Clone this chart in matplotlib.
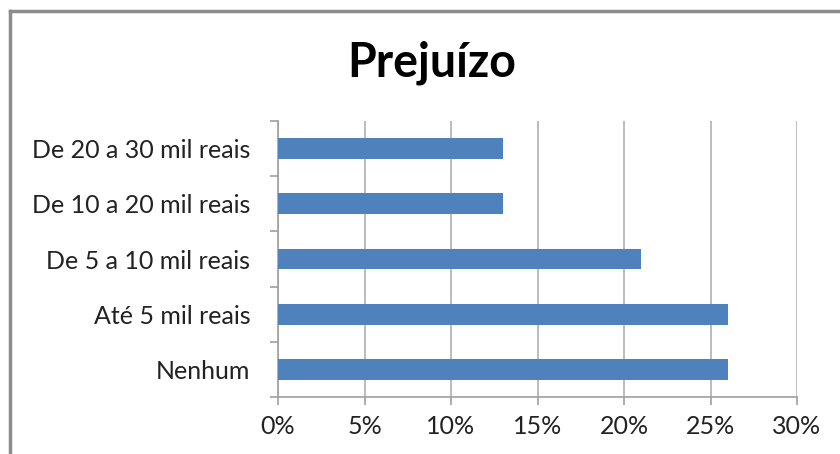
import matplotlib.pyplot as plt
import numpy as np
from matplotlib.lines import Line2D

# datos
categorias = ['Nenhum', 'Até 5 mil reais', 'De 5 a 10 mil reais', 'De 10 a 20 mil reais', 'De 20 a 30 mil reais']
valores = [26, 26, 21, 13, 13]
ticks_x = [0, 5, 10, 15, 20, 25, 30]
titulo = 'Prejuízo'

plt.rcParams['font.family'] = ['Lato', 'DejaVu Sans']

fig = plt.figure(figsize=(8.4, 4.54), dpi=100)
ax = fig.add_axes([278 / 840, 1 - 397 / 454, (797 - 278) / 840, (397 - 121) / 454])

pos = np.arange(len(categorias))
ax.barh(pos, valores, height=0.38, color='#4F81BD', zorder=3)

ax.set_xlim(0, 30)
ax.set_ylim(-0.5, len(categorias) - 0.5)
ax.set_xticks(ticks_x)
ax.set_xticklabels([f'{t}%' for t in ticks_x])
ax.grid(axis='x', color='#B0B0B0', linewidth=1.2, zorder=0)

# ticks en los limites de las categorias
ax.set_yticks(np.arange(-0.5, len(categorias), 1.0))
ax.set_yticklabels([])
ax.set_yticks(pos, minor=True)
ax.set_yticklabels(categorias, minor=True)
ax.tick_params(axis='y', which='minor', length=0, pad=20, labelsize=18, labelcolor='#222222')
ax.tick_params(axis='y', which='major', length=6, color='#A0A0A0', width=1.2)
ax.tick_params(axis='x', length=6, color='#A0A0A0', width=1.2, pad=7, labelsize=18, labelcolor='#222222')

for lado in ['top', 'right']:
    ax.spines[lado].set_visible(False)
for lado in ['left', 'bottom']:
    ax.spines[lado].set_color('#A0A0A0')
    ax.spines[lado].set_linewidth(1.2)

fig.text(432 / 840, 1 - 63 / 454, titulo, ha='center', va='center', fontsize=33.5, fontweight='bold')

# borde del grafico
fig.add_artist(Line2D([10 / 840, 10 / 840], [0, 1 - 11 / 454], transform=fig.transFigure, color='#8C8C8C', linewidth=2.5))
fig.add_artist(Line2D([10 / 840, 1], [1 - 11 / 454, 1 - 11 / 454], transform=fig.transFigure, color='#8C8C8C', linewidth=2.5))

fig.savefig('out.png', dpi=100)
